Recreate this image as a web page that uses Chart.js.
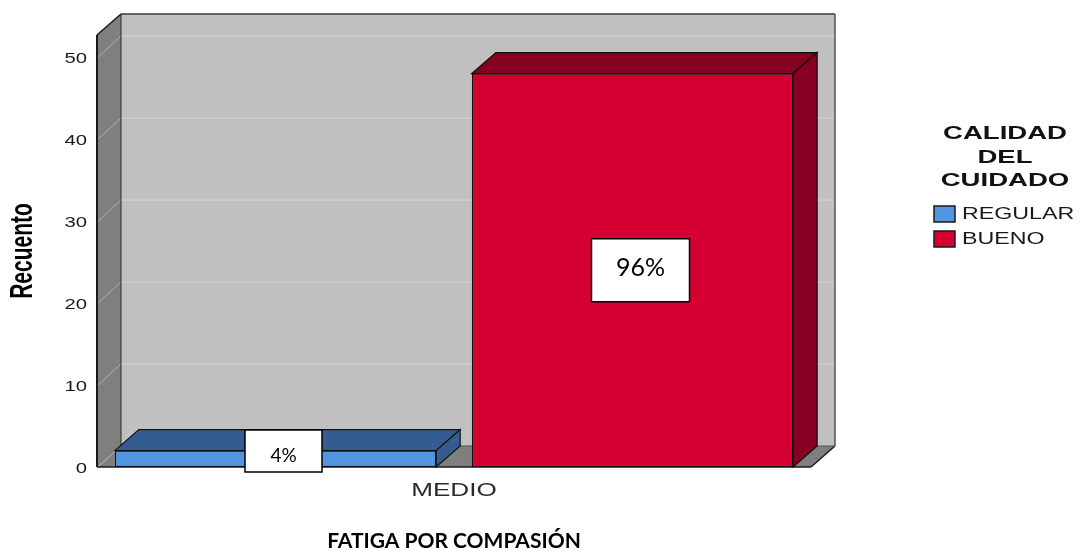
<!DOCTYPE html>
<html lang="es">
<head>
<meta charset="utf-8">
<title>Fatiga por compasión</title>
<script src="https://cdn.jsdelivr.net/npm/chart.js@4.4.1/dist/chart.umd.min.js"></script>
<style>
  body { margin: 0; background: #fff; }
  canvas { display: block; }
</style>
</head>
<body>
<canvas id="grafico" width="1081" height="551"></canvas>
<script>
const categorias = ['MEDIO'];
const seriesNombres = ['REGULAR', 'BUENO'];
const recuentoRegular = [2];
const recuentoBueno = [48];
const ticksY = [0, 10, 20, 30, 40, 50];
const tituloLeyenda = ['CALIDAD', 'DEL', 'CUIDADO'];
const tituloEjeY = 'Recuento';
const tituloEjeX = 'FATIGA POR COMPASIÓN';

const colores = [
    { frente: '#5294e0', fondo: '#355c90' },
    { frente: '#d50032', fondo: '#850021' }
];
const PROF_X = 24, PROF_Y = -21;   // profundidad del efecto 3D
const ESTIRA = 1.45;               // el texto del gráfico va ensanchado
const FUENTE = '"Liberation Sans", Arial, sans-serif';
const FUENTE_WORD = 'Lato, "Open Sans", sans-serif';
// cajas de porcentaje (ancho, alto, tamaño de letra, ajuste del texto)
const cajas = [
    { w: 77, h: 42, size: 19, dy: 5 },
    { w: 98, h: 63, size: 25, dy: -2 }
];

function poligono(ctx, pts, relleno, borde, grosor) {
    ctx.beginPath();
    ctx.moveTo(pts[0][0], pts[0][1]);
    for (let i = 1; i < pts.length; i++) ctx.lineTo(pts[i][0], pts[i][1]);
    ctx.closePath();
    if (relleno) { ctx.fillStyle = relleno; ctx.fill(); }
    if (borde) { ctx.strokeStyle = borde; ctx.lineWidth = grosor || 1; ctx.stroke(); }
}

function linea(ctx, x1, y1, x2, y2, color, grosor) {
    ctx.beginPath();
    ctx.moveTo(x1, y1);
    ctx.lineTo(x2, y2);
    ctx.strokeStyle = color;
    ctx.lineWidth = grosor || 1;
    ctx.stroke();
}

function textoAncho(ctx, txt, x, y, align, font, color) {
    ctx.save();
    ctx.translate(x, y);
    ctx.scale(ESTIRA, 1);
    ctx.font = font;
    ctx.fillStyle = color;
    ctx.textAlign = align;
    ctx.textBaseline = 'middle';
    ctx.fillText(txt, 0, 0);
    ctx.restore();
}

const marco3d = {
    id: 'marco3d',
    beforeDatasetsDraw(chart) {
        const { ctx, chartArea: a, scales: { y } } = chart;
        const L = a.left, R = a.right, T = a.top, B = a.bottom;
        ctx.save();
        // pared del fondo
        ctx.fillStyle = '#c0c0c0';
        ctx.fillRect(L + PROF_X, T + PROF_Y, R - L, B - T);
        // pared lateral y piso
        poligono(ctx, [[L, T], [L + PROF_X, T + PROF_Y], [L + PROF_X, B + PROF_Y], [L, B]], '#7f7f7f');
        poligono(ctx, [[L, B], [L + PROF_X, B + PROF_Y], [R + PROF_X, B + PROF_Y], [R, B]], '#7f7f7f');
        // rejilla
        ticksY.forEach(v => {
            const py = y.getPixelForValue(v);
            if (v > 0) linea(ctx, L + PROF_X, py + PROF_Y, R + PROF_X, py + PROF_Y, '#d4d4d4', 1);
            linea(ctx, L + 1, py, L + PROF_X, py + PROF_Y, '#b0b0b0', 1);
        });
        // bordes
        linea(ctx, L + PROF_X, T + PROF_Y, R + PROF_X, T + PROF_Y, '#3a3a3a', 1.5);
        linea(ctx, R + PROF_X, T + PROF_Y, R + PROF_X, B + PROF_Y, '#555', 1.5);
        linea(ctx, L + PROF_X, T + PROF_Y, L + PROF_X, B + PROF_Y, '#2a2a2a', 1);
        linea(ctx, L, T, L + PROF_X, T + PROF_Y, '#1a1a1a', 1.5);
        linea(ctx, L, T, L, B, '#1a1a1a', 2);
        linea(ctx, L, B, R, B, '#1a1a1a', 1.5);
        linea(ctx, R, B, R + PROF_X, B + PROF_Y, '#1a1a1a', 1.5);
        linea(ctx, L + PROF_X, B + PROF_Y, R + PROF_X, B + PROF_Y, '#555', 1);
        ctx.restore();
    },
    afterDatasetsDraw(chart) {
        const ctx = chart.ctx;
        const total = chart.data.datasets.reduce((s, d) => s + d.data[0], 0);
        const barras = [];
        ctx.save();
        chart.data.datasets.forEach((ds, i) => {
            chart.getDatasetMeta(i).data.forEach((bar, j) => {
                const { x, y, base, width } = bar.getProps(['x', 'y', 'base', 'width'], true);
                const x0 = x - width / 2, x1 = x + width / 2;
                const oscuro = colores[i].fondo;
                // cara superior y lateral
                poligono(ctx, [[x0, y], [x0 + PROF_X, y + PROF_Y], [x1 + PROF_X, y + PROF_Y], [x1, y]], oscuro, '#111', 1.2);
                poligono(ctx, [[x1, y], [x1 + PROF_X, y + PROF_Y], [x1 + PROF_X, base + PROF_Y], [x1, base]], oscuro, '#111', 1.2);
                barras.push({ x, y, base, valor: ds.data[j], i });
            });
        });
        // cajas con el porcentaje
        barras.forEach(b => {
            const c = cajas[b.i];
            const cx = b.x + 8;
            const cy = Math.min((b.y + b.base) / 2, b.base - 16);
            ctx.fillStyle = '#fff';
            ctx.fillRect(cx - c.w / 2, cy - c.h / 2, c.w, c.h);
            ctx.strokeStyle = '#000';
            ctx.lineWidth = 1.5;
            ctx.strokeRect(cx - c.w / 2, cy - c.h / 2, c.w, c.h);
            ctx.fillStyle = '#000';
            ctx.font = c.size + 'px ' + FUENTE_WORD;
            ctx.textAlign = 'center';
            ctx.textBaseline = 'middle';
            ctx.fillText(Math.round(b.valor / total * 100) + '%', cx, cy + c.dy);
        });
        ctx.restore();
    },
    afterDraw(chart) {
        const { ctx, chartArea: a, scales: { x, y } } = chart;
        ctx.save();
        // marcas del eje Y
        ticksY.forEach(v => {
            textoAncho(ctx, String(v), a.left - 10, y.getPixelForValue(v) + 2, 'right', '14px ' + FUENTE, '#1a1a1a');
        });
        // categoría
        categorias.forEach((c, i) => {
            textoAncho(ctx, c, x.getPixelForValue(i), a.bottom + 24, 'center', '18px ' + FUENTE, '#2a2a2a');
        });
        // título del eje Y (girado)
        ctx.save();
        ctx.translate(24, (a.top + a.bottom) / 2);
        ctx.scale(ESTIRA, 1);
        ctx.rotate(-Math.PI / 2);
        ctx.font = 'bold 21px ' + FUENTE;
        ctx.fillStyle = '#000';
        ctx.textAlign = 'center';
        ctx.textBaseline = 'middle';
        ctx.fillText(tituloEjeY, 0, 0);
        ctx.restore();
        // título del eje X
        ctx.font = 'bold 21px ' + FUENTE_WORD;
        ctx.fillStyle = '#000';
        ctx.textAlign = 'center';
        ctx.textBaseline = 'middle';
        ctx.fillText(tituloEjeX, (a.left + a.right) / 2, 541);
        // leyenda
        tituloLeyenda.forEach((t, k) => {
            textoAncho(ctx, t, 1005, 134 + k * 23.5, 'center', 'bold 19px ' + FUENTE, '#111');
        });
        chart.data.datasets.forEach((ds, i) => {
            const ly = 214 + i * 25;
            ctx.fillStyle = ds.backgroundColor;
            ctx.fillRect(934, ly - 8, 21, 16);
            ctx.strokeStyle = '#1a1a1a';
            ctx.lineWidth = 1.5;
            ctx.strokeRect(934, ly - 8, 21, 16);
            textoAncho(ctx, ds.label, 962, ly + 1, 'left', '16px ' + FUENTE, '#1a1a1a');
        });
        ctx.restore();
    }
};

new Chart(document.getElementById('grafico'), {
    type: 'bar',
    data: {
        labels: categorias,
        datasets: [
            {
                label: seriesNombres[0],
                data: recuentoRegular,
                backgroundColor: colores[0].frente,
                borderColor: '#111',
                borderWidth: 1.2,
                borderSkipped: false
            },
            {
                label: seriesNombres[1],
                data: recuentoBueno,
                backgroundColor: colores[1].frente,
                borderColor: '#111',
                borderWidth: 1.2,
                borderSkipped: false
            }
        ]
    },
    options: {
        responsive: false,
        animation: false,
        events: [],
        layout: { padding: { left: 97, right: 270, top: 35, bottom: 84 } },
        categoryPercentage: 1,
        barPercentage: 0.9,
        plugins: {
            legend: { display: false },
            tooltip: { enabled: false }
        },
        scales: {
            x: { display: false },
            y: { display: false, min: 0, max: 52.7 }
        }
    },
    plugins: [marco3d]
});
</script>
</body>
</html>
